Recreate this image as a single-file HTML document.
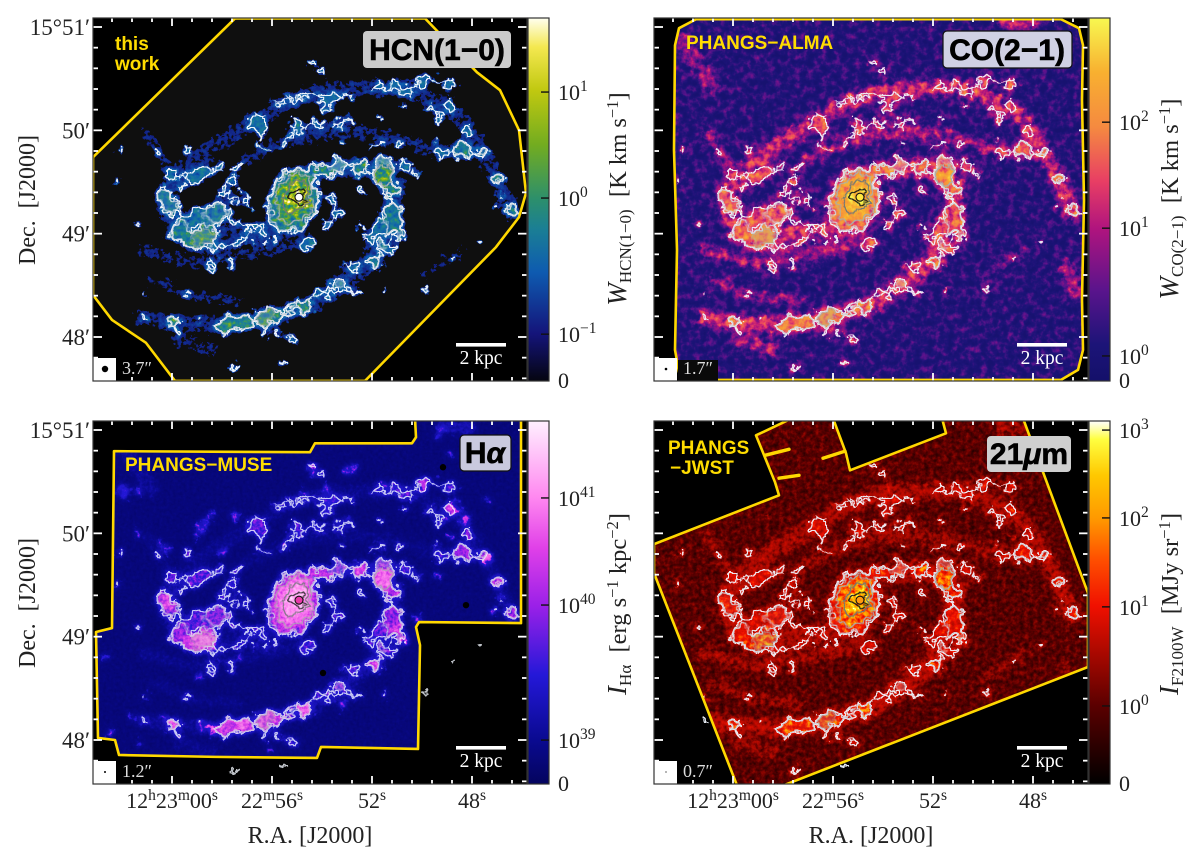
<!DOCTYPE html>
<html lang="en">
<head>
<meta charset="utf-8">
<title>NGC 4321 multi-wavelength maps</title>
<style>
html,body{margin:0;padding:0;background:#fff}
svg{display:block}
.serif{font-family:"Liberation Serif","DejaVu Serif",serif;fill:#222}
.sans{font-family:"Liberation Sans",sans-serif;font-weight:bold}
.yl{fill:#ffdc00;font-size:19px}
.big{fill:#000;font-size:30px;text-anchor:middle;stroke:#000;stroke-width:.6px}
.scale{fill:#fff;font-size:19.5px;text-anchor:middle;font-family:"Liberation Serif",serif}
.beam{fill:#ddd;font-size:18px;font-family:"Liberation Serif",serif}
</style>
</head>
<body>
<svg id="figure" xmlns="http://www.w3.org/2000/svg" width="1200" height="858" viewBox="0 0 1200 858">
  <defs id="defs"></defs>
  <rect width="1200" height="858" fill="#fff"/>
  <g id="panels"></g>

  <g class="serif">
    <text transform="translate(35,200) rotate(-90)" text-anchor="middle" font-size="24">Dec.&#160;&#160;[J2000]</text>
    <text transform="translate(35,603) rotate(-90)" text-anchor="middle" font-size="24">Dec.&#160;&#160;[J2000]</text>
    <text x="310" y="843" text-anchor="middle" font-size="24">R.A. [J2000]</text>
    <text x="871" y="843" text-anchor="middle" font-size="24">R.A. [J2000]</text>

    <text transform="translate(626,199) rotate(-90)" text-anchor="middle" font-size="24.5"><tspan font-style="italic" font-size="27">W</tspan><tspan font-size="17" dy="5">HCN(1−0)</tspan><tspan dy="-5">&#160;&#160;[K km s</tspan><tspan font-size="16.5" dy="-8">−1</tspan><tspan dy="8">]</tspan></text>
    <text transform="translate(1178,199) rotate(-90)" text-anchor="middle" font-size="24.5"><tspan font-style="italic" font-size="27">W</tspan><tspan font-size="17" dy="5">CO(2−1)</tspan><tspan dy="-5">&#160;&#160;[K km s</tspan><tspan font-size="16.5" dy="-8">−1</tspan><tspan dy="8">]</tspan></text>
    <text transform="translate(626,604) rotate(-90)" text-anchor="middle" font-size="24.5"><tspan font-style="italic" font-size="27">I</tspan><tspan font-size="17" dy="5">Hα</tspan><tspan dy="-5">&#160;&#160;[erg s</tspan><tspan font-size="16.5" dy="-8">−1</tspan><tspan dy="8"> kpc</tspan><tspan font-size="16.5" dy="-8">−2</tspan><tspan dy="8">]</tspan></text>
    <text transform="translate(1178,604) rotate(-90)" text-anchor="middle" font-size="24.5"><tspan font-style="italic" font-size="27">I</tspan><tspan font-size="17" dy="5">F2100W</tspan><tspan dy="-5">&#160;&#160;[MJy sr</tspan><tspan font-size="16.5" dy="-8">−1</tspan><tspan dy="8">]</tspan></text>
  </g>

  <g>
    <text class="sans yl" x="115" y="50">this</text>
    <text class="sans yl" x="115" y="70">work</text>
    <rect x="363" y="31" width="148" height="37" rx="4" fill="#cbcbcb"/>
    <text class="sans big" x="437" y="60">HCN(1−0)</text>

    <text class="sans yl" x="686" y="49">PHANGS−ALMA</text>
    <rect x="943" y="31" width="129" height="37" rx="4" fill="#d0d1e4" stroke="#111" stroke-width="1.2"/>
    <text class="sans big" x="1007" y="60">CO(2−1)</text>

    <text class="sans yl" x="125" y="471">PHANGS−MUSE</text>
    <rect x="460" y="435" width="51" height="36" rx="4" fill="#c9c9de" stroke="#111" stroke-width="1.2"/>
    <text class="sans big" x="485" y="463">H<tspan font-style="italic">α</tspan></text>

    <text class="sans yl" x="668" y="454">PHANGS</text>
    <text class="sans yl" x="670" y="474">−JWST</text>
    <rect x="987" y="436" width="84" height="36" rx="4" fill="#cfcfcf"/>
    <text class="sans big" x="1029" y="464">21<tspan font-style="italic">μ</tspan>m</text>
  </g>
</svg>

<script>
/* ---------- axis data ---------- */
const raMajorSeconds = [60, 56, 52, 48];
const raTickStart = 62.4, raTickStep = 0.8, raTickCount = 21;
const decMajorArcsec = [180, 120, 60, 0];
const decMinorStep = 12;
const decLabels = ['15°51′', '50′', '49′', '48′'];

/* ---------- HCN structure (RA seconds past 12h22m, Dec arcsec past 15°48′, size arcsec, level) ---------- */
const clumpRA = [60.28,60,59.48,59.76,59.28,58.76,58.4,58.96,58.28,58.56,57.88,57.6,56.76,56.4,59.08,58.68,60,59.68,58,57.6,57.28,57.04,58.12,57.36,59.36,60.56,58.28,58.4,57.64,58,57.28,56.28,55.84,56.68,
 56.56,56.4,55.48,54.96,54.16,53.28,52.8,53.68,53.88,53.08,54.88,55.6,55.2,51.68,51.08,50.56,49.96,48.88,49.68,48.88,49.28,48.2,48.4,47.56,49.28,46.96,46.4,47.04,46.88,54.4,53.96,51.68,50.72,53.16,51.68,50.88,49.4,
 53.36,52.48,51.56,51.2,51.48,50.68,50.28,51.2,51.68,51.08,50.88,52,51.36,51.88,51.6,52.76,53.28,52.68,53.76,54.16,54.68,55.36,56.28,57.08,57.88,57.48,55.88,59.96,59.76,61.08,58.88,56.28,55.8,55.2,53.64,53.36,53.88,54.56,52.48,52.48,61.08,59.36,61.36,62.12,62.2,49.96,48.72,47.72,51.48,57.48,55.64];
const clumpDec = [81.2,75.4,65,61,56.3,57.5,60.4,70.8,72.5,66.7,72.5,66.7,64.4,61,92.3,95.7,94,87,83.6,90,85.3,79.5,98.6,99.2,106.8,107.3,51.7,41.8,43.5,53.4,56.3,54.6,56.3,54.6,
 124.7,117.2,111.4,121.3,123,123,125.9,138.7,132.9,139.2,139.2,136.3,127.6,145,145,143.3,149.1,146.8,132.9,134.6,127,120.1,108.5,107.3,106.2,92.3,73.7,74.9,82.4,157.8,154.3,127,133.4,112.6,112.6,112.6,114.3,
 99.8,98.6,93.4,85.3,99.8,99.8,95.7,72,63.3,65,58.6,57.5,50.5,43.5,53.4,40,31.4,26.1,24.4,26.1,18,14.5,11,8.2,6.4,8.7,12.2,8.2,4.1,11,9.9,1.2,1.8,-1.7,79.5,72,66.7,54.6,85.3,63.8,25.6,25.6,66.2,107.3,91.1,27.3,46.4,54.6,25.6,-17.4,-15];
const clumpSize = [5.8,5.2,4.6,5.2,4.6,6.4,3.5,5.2,6.4,4.6,3.5,2.9,2.9,2.3,4.6,3.5,3.5,2.3,2.9,2.3,1.7,2,2.3,2,2.3,1.7,2.3,2.9,2.3,1.7,2.3,2.3,2.3,1.7,
 5.2,2.3,2.3,4.1,3.5,3.5,1.7,4.6,2.3,1.7,2.3,2.3,1.7,2.9,3.5,3.5,3.5,3.5,2.9,3.5,2.3,2.9,5.2,3.5,3.5,3.5,3.5,1.7,1.7,1.7,2.3,1.7,1.7,1.7,2.3,2.3,1.7,
 4.6,4.6,5.8,5.2,5.8,3.5,2.3,5.8,4.6,4.6,3.5,2.9,4.1,4.1,2.9,3.5,4.1,2.3,2.9,2.3,4.6,3.5,5.8,4.6,4.6,3.5,4.1,3.5,1.7,1.7,1.7,1.7,2.3,2.3,2.9,2.9,1.7,4.1,2.3,1.7,1.7,1.7,1.7,1.7,1.7,2,1.7,1.7,1.7,2.3,1.7];
const clumpLevel = [.43,.43,.4,.46,.5,.54,.5,.4,.43,.4,.38,.4,.4,.36,.4,.4,.4,.36,.36,.36,.36,.36,.36,.36,.4,.36,.36,.36,.36,.36,.36,.36,.36,.36,
 .4,.36,.36,.38,.36,.36,.36,.36,.36,.36,.36,.36,.36,.36,.38,.4,.4,.38,.36,.4,.36,.4,.46,.43,.36,.46,.46,.38,.36,.36,.38,.36,.36,.36,.36,.36,.36,
 .42,.5,.6,.48,.42,.38,.36,.45,.4,.45,.42,.38,.4,.48,.42,.4,.42,.36,.4,.38,.52,.45,.54,.52,.52,.5,.5,.52,.4,.36,.36,.36,.36,.36,.36,.38,.36,.38,.36,.36,.36,.36,.36,.36,.36,.36,.36,.36,.36,.36,.36];
const clumpScale = 1.08;

/* connecting ridges of dense gas */
const ridgeRA = [
 [53.36,52.4,51.48,51.2,51.36,51.04,51.8,51.88],[60.56,59.96,59.2,58.28,57.36,56.28],[59.64,58.88,58.12],[60.12,58.88,58.28],
 [55.96,54.88,53.64,52.72],[52.12,51.2,50.56,49.8,48.88],[49.72,49.2],[49.48,48.4,47.56],[58.36,57.2,56.12,55.04,54.12,53.2],
 [56.72,56.56],[56.56,56.12],[55.48,55.04,54.12],[53.64,52.88],[53.64,53.36,53.8],[54.56,54.56],[57.48,57.96,57.36],[57.04,56.88],
 [56.88,57.36,57.96],[58.4,58.28],[57.64,57.56],[54.12,53.48],[52.12,51.48],[52.4,51.48,50.88],[55.48,55.04],[56.4,56.28],[53.64,53.04,52.4],[53.2,52.56]];
const ridgeDec = [
 [101,98.6,92.3,79.5,69.6,60.4,50.5,43],[79.5,72,67.9,72,66.2,63.8],[56.3,54.6,62.1],[95.2,92.9,98.6],
 [135.8,139.2,139.2,139.2],[145,144.5,143.3,150.3,147.4],[133.4,127.6],[106.8,108.5,107.3],[7,8.2,11.6,17.4,25.6,31.4],
 [127.6,118.4],[112.6,106.8],[112.6,121.3,124.2],[124.2,127.6],[83.6,72,63.8],[58,50.5],[95.2,85.3,77.8],[83.6,75.4],
 [60.4,54.6,52.2],[46.4,38.9],[46.4,38.9],[139.2,133.4],[110.2,112.6],[58,60.4,63.8],[2.4,-1.7],[4.1,0],[25.6,27.3,25.6],[40.6,38.9]];
const ridgeLevel = .34, ridgeWidth = 2.3;

/* bulge: nested ellipses around the nucleus */
const bulgeRA = [55.16,55.12,55.08,55.04,54.96];
const bulgeDec = [79.5,80,80.5,81,81.5];
const bulgeMajor = [20,17.5,14.5,10.5,6.5];
const bulgeMinor = [15,13,10,7.5,5];
const bulgeLevel = [.42,.52,.62,.72,.84];
/* bar wing */
const wingRA = [54.96,54.2,53.36];
const wingDec = [92.3,97,96.9];
const wingLevel = .5, wingWidth = 7;
/* nucleus */
const nucleusRA = [54.92];
const nucleusDec = [81.2];
const nucleusColors = ['#ffffff','#ffe840','#e83aa8','#ff9a10'];

/* ---------- spiral arms ---------- */
const armRA = [
 [46.4,47,48.24,49.48,50.56,52.24,54.08,55.8,57,58.4,59.64,60.4,59.92,58.72,56.72,55.48],
 [53.48,51.92,51,51.32,51.8,52.08,53.32,54.72,56.24,58.08,59.92,61.16],
 [61.16,59.16,56.72,54.56],
 [57,55.48,53.8,51.8,49.8,48.56,47.48],
 [61,60.08],
 [60.72,59.16,57.32],
 [50,48.4],
 [62.08,60.88],
 [49.16,48.08],
 [46.68,46.28],
 [59.8,58.48]];
const armDec = [
 [72,91.1,124.2,135.8,144.5,144.5,143.3,133.4,121.8,110.2,95.2,81.2,60.4,56.3,62.1,63.8],
 [98.6,98,87,72,56.3,43,29,17.4,9.9,7,8.7,11.6],
 [50.5,43,48.8,56.3],
 [102.7,114.3,118.4,118.4,110.2,108.5,106.8],
 [118.4,96.9],
 [33.1,23.2,21.5],
 [34.8,50.5],
 [172.3,146.2],
 [182.2,181],
 [41.8,27.3],
 [0,-7.5]];
const armWidth = [7.5,8,6,6,5,5,5,8,7,8,7];
const armWidthScale = [1.35,1,1,1.1];
const armLevelHCN = [.165,.165,.155,.165,.155,.155,.14,.15,.14,.14,.15];
const armLevelCO = [.33,.35,.27,.27,.26,.24,.19,.24,.29,.27,.27];
const armLevelHA = [.11,.13,.11,.1,.1,.1,.09,.13,.18,.09,.11];
const armLevelJWST = [.25,.27,.22,.21,.2,.2,.18,.18,.22,.18,.2];

/* ---------- band specific compact sources ---------- */
const haRA = [49.96,48.72,48.28,47.44,46.96,48.12,48.88,49.2,54.4,53.8,61.96,58.4,58.64,61.4,60.2,57.96,55.48,50.2,46.4,47.2,49.36,56.04,61.64,62.72,57.28,51.56,53.2,61.28,58.64,59.04,60.16,51.52,52.48,51.08,50.72,51.88,54.68,56.28,57.2,58.4,59.96,
 60.4,59.04,58.96,53.04,48.88,47.36,49.04,54.72,57.48,58.88,52.72,51.48,60.28,58.8,61.36,62.48];
const haDec = [147.9,134.6,128.8,104.4,91.1,119,117.8,179.8,156.6,146.2,143.9,130.5,125.9,120.1,110.2,108.5,113.1,70.8,71.4,74.3,94.6,-5.8,13.4,48.2,48.2,25,20.3,-1.7,56.3,59.2,80.7,92.3,98,65,57.5,43.5,18,11,8.7,7,8.2,
 114.3,117.8,123.6,156.6,166.5,138.1,127.6,143.3,129.4,36.6,156.6,149.1,13.4,8.7,143.3,4.1];
const haSize = [2.9,3.5,2.9,2.9,2.9,1.7,1.7,2.9,2.3,1.7,4.1,1.7,1.5,1.5,1.7,2.3,2.3,2.3,1.7,1.7,1.7,1.7,1.5,1.5,1.7,1.5,2.9,1.5,5.2,3.5,4.1,4.1,2.9,2.9,2.3,2.9,3.5,2.9,2.9,2.9,2.3,
 1.7,1.7,1.7,1.7,1.7,1.7,1.7,1.7,1.7,1.7,1.7,1.7,1.7,1.7,1.7,1.7];
const haLevel = [.5,.55,.5,.6,.5,.46,.46,.4,.48,.46,.34,.46,.46,.46,.46,.46,.46,.46,.46,.46,.46,.46,.44,.44,.44,.44,.46,.44,.65,.6,.55,.62,.55,.55,.55,.55,.6,.58,.62,.62,.58,
 .46,.46,.46,.46,.46,.46,.46,.46,.46,.46,.46,.46,.46,.46,.46,.46];
const maskRA = [49.16,48.24,53.96];
const maskDec = [158.4,78.3,38.9];

const jwstRA = [60.4,47,47.48,48.8,48.72,53.8,58.56,60,51.8,51.4,50.88,58.72,54.72,57.8,56.16,52.4,58.48,49.24];
const jwstDec = [79.5,91.1,105.6,117.2,133.4,146.8,130.5,7,42.4,90,56.3,56.3,16.3,7,9.9,97.5,69.6,179.8];
const jwstSize = [2.3,2.3,2.3,1.2,1.7,1.5,1.2,2.3,2.3,2.9,2.3,2.9,2.9,2.3,2.3,2.3,1.7,2.9];
const jwstLevel = [.52,.5,.55,.5,.5,.45,.45,.58,.58,.68,.6,.7,.7,.62,.62,.62,.55,.3];

/* ---------- survey footprints ---------- */
const hcnFootRA = [63.16,57.48,49.88,47.8,46.88,46.12,45.84,46.12,47.04,52.28,59.88,61.04,62.4,63.16];
const hcnFootDec = [104.4,185,185,153.7,143.3,120.1,83.6,69.6,52.2,-25.5,-25.5,-3.4,9.9,24.4];
const coFootRA = [62.32,62.16,61.48,46.88,46.16,46,46.04,45.96,46.04,46,46.2,46.88,61.48,62.16,62.32,62.24,62.36];
const coFootDec = [169.4,179.3,184.5,184.5,179.3,169.4,137.5,79.5,21.5,-7.5,-19.1,-24.9,-24.9,-20.3,-7.5,50.5,108.5];
const haFootRA = [62.32,54.48,54.28,50.4,50.24,50.28,46.04,46.04,50.12,50.24,50.08,50.16,54.04,54.2,58.28,62.12,62.28,62.96,63.04,62.4];
const haFootDec = [167.7,167.1,172.3,172.3,175.8,186.8,186.8,67.9,68.5,65.6,55.1,-5.2,-4,-10.4,-9.8,-8.7,0,1.2,62.7,65];
const jwstFootRA = [63.16,58.16,58.32,59.08,57.64,56,55.48,55.32,51.48,51.64,48.4,45.8,45.8,58.24,59.8,63.16];
const jwstFootDec = [113.7,142.1,149.7,176.9,186.8,186.8,166.5,156.6,178.1,186.8,186.8,85.3,42.4,-27.8,-27.8,96.9];
const fingerRA = [[58.72,57.76],[56.4,55.52],[58.16,57.36]];
const fingerDec = [[165.3,168.8],[163.6,167.7],[152,153.7]];

/* ---------- colour scales: position on bar and colour ---------- */
const hcnStopPos = [0,.13,.3,.42,.5,.65,.8,.92,1];
const hcnStopCol = ['#050510','#14147a','#0e5bb0','#1b7f94','#2c8f6c','#72ac20','#c0c810','#f4e850','#fffff0'];
const coStopPos = [0,.1,.25,.42,.55,.7,.85,1];
const coStopCol = ['#14106a','#1c1478','#5a148c','#b0147e','#e83e64','#f58a40','#f8b030','#f8f850'];
const haStopPos = [0,.12,.3,.49,.65,.79,1];
const haStopCol = ['#04045e','#0a0a90','#2418d8','#9a20e8','#e040e8','#ff88f0','#fff0ff'];
const jwstStopPos = [0,.215,.49,.62,.73,.85,.95,1];
const jwstStopCol = ['#000000','#5a0000','#f01000','#ff5000','#ff9800','#ffc800','#ffff40','#ffffff'];

/* colorbar ticks */
const hcnTickFrac = [.796,.504,.129];
const hcnTickExp = ['1','0','−1'];
const coTickFrac = [.713,.421,.069];
const coTickExp = ['2','1','0'];
const haTickFrac = [.788,.493,.121];
const haTickExp = ['41','40','39'];
const jwstTickFrac = [.975,.733,.488,.215];
const jwstTickExp = ['3','2','1','0'];

/* contours */
const contourLevels = [.26,.40,.52,.66,.8];
const contourColors = ['#eef3fb','#d4dae2','#a8b0b0','#6f7878','#1a1a1a'];

/* panel geometry and look */
const panelNames = ['hcn','co','halpha','jwst'];
const panelDX = [0,561,0,561];
const panelDY = [0,0,403,403];
const panelBase = [.03,.085,.055,.11];
const panelNoiseFreq = [.22,.15,.3,.22];
const panelK = [[1.2,.4,0,0],[.6,.72,.34,-.17],[.4,.8,.08,-.04],[.8,.6,.24,-.12]];
const panelIn = [[0,.3,.5,.7,1],[0,.1,.3,.4,.6,1],[0,.1,.2,.36,.46,.6,1],[0,.1,.25,.36,.5,.7,1]];
const panelOut = [[0,.3,.42,.62,1],[.05,.12,.42,.55,.75,1],[.03,.1,.22,.3,.5,.72,1],[.1,.2,.36,.42,.5,.72,1]];
const panelCut = [.15,-1,-1,-1];
const panelHalo = [3,4,3,3];
const contourOpacity = [1,.95,.8,.95];
const beamLabels = ['3.7″','1.7″','1.2″','0.7″'];
const beamRadius = [3.2,1.3,1,.6];

/* ---------- axis functions ---------- */
const xOf = ra => 172 + (60 - ra) * 25;
const yOf = dec => 337 - dec * 1.7222;
const sz = a => a * 1.7222;
const L = {x:93, y:18, w:434, h:363};
const SVGNS = 'http://www.w3.org/2000/svg';

function node(tag, parent, attrs){
  const el = document.createElementNS(SVGNS, tag);
  for (const k in attrs) el.setAttribute(k, attrs[k]);
  if (parent) parent.appendChild(el);
  return el;
}
function gray(v){ const c = Math.round(Math.max(0,Math.min(1,v))*255); return 'rgb('+c+','+c+','+c+')'; }
function hex(c){ return [parseInt(c.slice(1,3),16),parseInt(c.slice(3,5),16),parseInt(c.slice(5,7),16)]; }
function lerp(xs, ys, v){
  if (v <= xs[0]) return ys[0];
  for (let i=1;i<xs.length;i++) if (v <= xs[i]) return ys[i-1] + (ys[i]-ys[i-1])*(v-xs[i-1])/(xs[i]-xs[i-1]);
  return ys[ys.length-1];
}
function colourAt(pos, col, v){
  const rgb = col.map(hex);
  return [0,1,2].map(i => lerp(pos, rgb.map(c=>c[i]), v));
}
const defs = document.getElementById('defs');
const panelsRoot = document.getElementById('panels');
const stopPos = [hcnStopPos,coStopPos,haStopPos,jwstStopPos];
const stopCol = [hcnStopCol,coStopCol,haStopCol,jwstStopCol];
const tickFrac = [hcnTickFrac,coTickFrac,haTickFrac,jwstTickFrac];
const tickExp = [hcnTickExp,coTickExp,haTickExp,jwstTickExp];
const armLevels = [armLevelHCN,armLevelCO,armLevelHA,armLevelJWST];
const feet = [[hcnFootRA,hcnFootDec],[coFootRA,coFootDec],[haFootRA,haFootDec],[jwstFootRA,jwstFootDec]];
const FR = {filterUnits:'userSpaceOnUse', x:55, y:-20, width:510, height:440, 'color-interpolation-filters':'sRGB'};

/* shared molecular structure */
const structure = node('g', defs, {id:'hcn-structure'});


ridgeRA.forEach((ra,a)=>{
  const r = node('polyline', structure, {
    points: ra.map((v,i)=>xOf(v)+','+yOf(ridgeDec[a][i])).join(' '),
    fill:'none', stroke:gray(ridgeLevel), 'stroke-width':sz(ridgeWidth), 'stroke-linecap':'round', 'stroke-linejoin':'round'});
  
  
});
const wing = node('polyline', structure, {
  points: wingRA.map((r,i)=>xOf(r)+','+yOf(wingDec[i])).join(' '),
  fill:'none', stroke:gray(wingLevel), 'stroke-width':sz(wingWidth), 'stroke-linecap':'round', 'stroke-linejoin':'round'});


clumpRA.map((_,i)=>i).sort((a,b)=>clumpLevel[a]-clumpLevel[b]).forEach(i=>{
  const c = node('circle', structure, {cx:xOf(clumpRA[i]), cy:yOf(clumpDec[i]), r:sz(clumpSize[i])*clumpScale, fill:gray(clumpLevel[i])});
  
  
});
bulgeRA.forEach((r,i)=>{
  const e = node('ellipse', structure, {cx:0, cy:0, rx:sz(bulgeMinor[i]), ry:sz(bulgeMajor[i]),
    transform:'translate('+xOf(r)+','+yOf(bulgeDec[i])+') rotate(18)', fill:gray(bulgeLevel[i])});
  
  
});

/* contour filter */
(function(){
  const f = node('filter', defs, Object.assign({id:'contour-filter'}, FR));
  node('feGaussianBlur', f, {in:'SourceGraphic', stdDeviation:1.2, result:'b'});
  node('feTurbulence', f, {type:'fractalNoise', baseFrequency:.12, numOctaves:3, seed:7, result:'w'});
  node('feDisplacementMap', f, {in:'b', in2:'w', scale:15, xChannelSelector:'R', yChannelSelector:'G', result:'d'});
  node('feColorMatrix', f, {in:'d', type:'matrix', values:'0 0 0 0 1 0 0 0 0 1 0 0 0 0 1 1 0 0 0 0', result:'a'});
  const merge = [];
  contourLevels.forEach((lv,i)=>{
    const t = node('feComponentTransfer', f, {in:'a', result:'m'+i});
    node('feFuncA', t, {type:'linear', slope:30, intercept:-30*lv});
    node('feMorphology', f, {in:'m'+i, operator:'erode', radius:1, result:'e'+i});
    node('feComposite', f, {in:'m'+i, in2:'e'+i, operator:'out', result:'l'+i});
    node('feFlood', f, {'flood-color':contourColors[i], result:'c'+i});
    node('feComposite', f, {in:'c'+i, in2:'l'+i, operator:'in', result:'o'+i});
    merge.push('o'+i);
  });
  const m = node('feMerge', f, {});
  merge.forEach(n=>node('feMergeNode', m, {in:n}));
})();

/* panels */
panelNames.forEach((name,p)=>{
  const dx = panelDX[p], dy = panelDY[p];
  /* field filter with colour table */
  const f = node('filter', defs, Object.assign({id:'field-'+name}, FR));
  node('feGaussianBlur', f, {in:'SourceGraphic', stdDeviation:1.2, result:'b'});
  node('feTurbulence', f, {type:'fractalNoise', baseFrequency:.12, numOctaves:3, seed:7, result:'w'});
  node('feDisplacementMap', f, {in:'b', in2:'w', scale:15, xChannelSelector:'R', yChannelSelector:'G', result:'d0'});
  node('feGaussianBlur', f, {in:'d0', stdDeviation:panelHalo[p], result:'h'});
  node('feBlend', f, {in:'d0', in2:'h', mode:'lighten', result:'d'});
  node('feTurbulence', f, {type:'fractalNoise', baseFrequency:panelNoiseFreq[p], numOctaves:3, seed:11+p, result:'t'});
  node('feColorMatrix', f, {in:'t', type:'matrix', values:'1 0 0 0 0 1 0 0 0 0 1 0 0 0 0 0 0 0 0 1', result:'n'});
  const k = panelK[p];
  node('feComposite', f, {in:'d', in2:'n', operator:'arithmetic', k1:k[0], k2:k[1], k3:k[2], k4:k[3], result:'s'});
  const R=[],G=[],B=[];
  for (let i=0;i<128;i++){
    const v=i/127;
    let c;
    if (v<panelCut[p]) c=[15,15,15];
    else c=colourAt(stopPos[p],stopCol[p],lerp(panelIn[p],panelOut[p],v));
    R.push((c[0]/255).toFixed(3)); G.push((c[1]/255).toFixed(3)); B.push((c[2]/255).toFixed(3));
  }
  const ct = node('feComponentTransfer', f, {in:'s'});
  node('feFuncR', ct, {type:'table', tableValues:R.join(' ')});
  node('feFuncG', ct, {type:'table', tableValues:G.join(' ')});
  node('feFuncB', ct, {type:'table', tableValues:B.join(' ')});

  /* clip paths */
  const cp = node('clipPath', defs, {id:'clip-'+name});
  node('rect', cp, {x:L.x,y:L.y,width:L.w,height:L.h});
  const fp = node('clipPath', defs, {id:'foot-'+name});
  const ptsStr = feet[p][0].map((r,i)=>xOf(r)+','+yOf(feet[p][1][i])).join(' ');
  node('polygon', fp, {points:ptsStr});

  const g = node('g', panelsRoot, {transform:'translate('+dx+','+dy+')'});
  
  

  const map = node('g', g, {'clip-path':'url(#clip-'+name+')'});
  
  
  node('rect', map, {x:L.x,y:L.y,width:L.w,height:L.h,fill:'#000'});

  const fc = node('g', map, {'clip-path':'url(#foot-'+name+')'});
  const field = node('g', fc, {filter:'url(#field-'+name+')'});
  
  
  node('rect', field, {x:40,y:-40,width:540,height:480,fill:gray(panelBase[p])});

  armRA.forEach((ra,a)=>{
    const l = node('polyline', field, {
      points: ra.map((r,i)=>xOf(r)+','+yOf(armDec[a][i])).join(' '),
      fill:'none', stroke:gray(armLevels[p][a]), 'stroke-width':sz(armWidth[a])*armWidthScale[p],
      'stroke-linecap':'round','stroke-linejoin':'round'});
    
    
  });
  node('use', field, {href:'#hcn-structure'});

  const extra = p===2 ? [haRA,haDec,haSize,haLevel] : p===3 ? [jwstRA,jwstDec,jwstSize,jwstLevel] : null;
  if (extra) extra[0].forEach((r,i)=>{
    const c = node('circle', field, {cx:xOf(r), cy:yOf(extra[1][i]), r:sz(extra[2][i]), fill:gray(extra[3][i])});
    
    
  });

  if (p===2) maskRA.forEach((r,i)=>{
    const c = node('circle', map, {cx:xOf(r), cy:yOf(maskDec[i]), r:3.2, fill:'#000'});
    
    
  });

  /* contours */
  const cg = node('g', map, {filter:'url(#contour-filter)', opacity:contourOpacity[p]});
  
  
  node('rect', cg, {x:40,y:-40,width:540,height:480,fill:'#000'});
  node('use', cg, {href:'#hcn-structure'});

  /* nucleus */
  nucleusRA.forEach((r,i)=>{
    const c = node('circle', map, {cx:xOf(r), cy:yOf(nucleusDec[i]), r:4, fill:nucleusColors[p], stroke:'#111', 'stroke-width':1.1});
    
    
  });

  /* footprint */
  const fl = node('polygon', map, {points:ptsStr, fill:'none', stroke:'#ffd800', 'stroke-width':2.6, 'stroke-linejoin':'round'});
  
  
  if (p===3) fingerRA.forEach((fr,i)=>{
    const s = node('polyline', map, {points:fr.map((r,j)=>xOf(r)+','+yOf(fingerDec[i][j])).join(' '), fill:'none', stroke:'#ffd800', 'stroke-width':3.4, 'stroke-linecap':'round'});
    
    
  });

  /* ticks */
  const tg = node('g', map, {stroke:'#fff','stroke-width':1.8});
  
  
  for (let i=0;i<raTickCount;i++){
    const ra = raTickStart - i*raTickStep, x = xOf(ra);
    const major = raMajorSeconds.some(m=>Math.abs(m-ra)<.01);
    const len = major ? 8 : 4;
    node('line', tg, {x1:x,x2:x,y1:L.y,y2:L.y+len});
    node('line', tg, {x1:x,x2:x,y1:L.y+L.h,y2:L.y+L.h-len});
  }
  for (let d=-24;d<=180;d+=decMinorStep){
    const y = yOf(d), major = decMajorArcsec.indexOf(d)>=0, len = major?9:5;
    node('line', tg, {x1:L.x,x2:L.x+len,y1:y,y2:y});
    node('line', tg, {x1:L.x+L.w,x2:L.x+L.w-len,y1:y,y2:y});
  }

  /* scale bar */
  const bar = node('rect', map, {x:456,y:343,width:50,height:3.6,fill:'#fff'});
  
  
  const bt = node('text', map, {x:481,y:364,class:'scale'});
  
  
  bt.textContent = '2 kpc';

  /* beam */
  if (p===1){
    const bgt = node('rect', map, {x:117,y:360,width:40,height:21,fill:'#0a0a0a'});
    
    
  }
  const bb = node('rect', map, {x:L.x,y:L.y+L.h-23,width:23,height:23,fill:'#fff'});
  
  
  const bd = node('circle', map, {cx:L.x+12,cy:L.y+L.h-12,r:beamRadius[p],fill:'#000'});
  
  
  const bl = node('text', map, {x:L.x+29,y:L.y+L.h-7,class:'beam'});
  
  
  bl.textContent = beamLabels[p];

  /* frame */
  const fr = node('rect', g, {x:L.x,y:L.y,width:L.w,height:L.h,fill:'none',stroke:'#333','stroke-width':1.2});
  
  

  /* colorbar */
  const lg = node('linearGradient', defs, {id:'cb-'+name,x1:0,y1:1,x2:0,y2:0});
  stopPos[p].forEach((s,i)=>node('stop', lg, {offset:s,'stop-color':stopCol[p][i]}));
  const cb = node('rect', g, {x:528,y:L.y,width:21,height:L.h,fill:'url(#cb-'+name+')',stroke:'#333','stroke-width':1.2});
  
  
  tickFrac[p].forEach((fv,i)=>{
    const y = L.y+L.h*(1-fv);
    const tk = node('line', g, {x1:541,x2:549,y1:y,y2:y,stroke:'#111','stroke-width':1.4});
    
    
    const t = node('text', g, {x:558,y:y+8,class:'serif','font-size':22});
    
    
    const a = node('tspan', t, {}); a.textContent='10';
    const b = node('tspan', t, {'font-size':15.5,dy:-9}); b.textContent=tickExp[p][i];
  });
  const z = node('text', g, {x:558,y:L.y+L.h+7,class:'serif','font-size':22});
  
  
  z.textContent='0';

  /* y tick labels on left panels */
  if (dx===0) decMajorArcsec.forEach((d,i)=>{
    const t = node('text', g, {x:90,y:yOf(d)+8,class:'serif','font-size':23,'text-anchor':'end'});
    
    
    t.textContent = decLabels[i];
  });
  /* x tick labels on bottom panels */
  if (dy>0) [[60,'12','h','23','m','00','s'],[56,'22','m','56','s'],[52,'52','s'],[48,'48','s']].forEach(lbl=>{
    const t = node('text', g, {x:xOf(lbl[0]),y:808-403,class:'serif','font-size':22,'text-anchor':'middle'});
    
    
    lbl.slice(1).forEach((s,i)=>{
      const sup = i%2===1;
      const ts = node('tspan', t, sup?{'font-size':15.5,dy:-8}:(i>0?{dy:8}:{}));
      ts.textContent = s;
    });
  });
});
</script>
</body>
</html>
